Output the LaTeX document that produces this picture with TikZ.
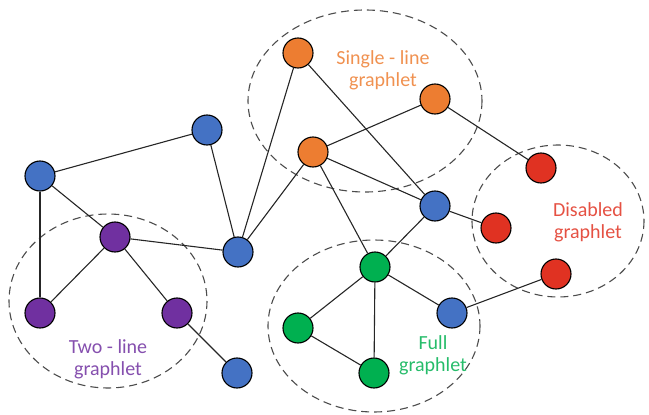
\documentclass[tikz,border=0pt]{standalone}
\usepackage{fontspec}
\setmainfont{Carlito}
\begin{document}
\begin{tikzpicture}[x=1pt,y=-1pt,
  vtx/.style={circle,draw=black,line width=1.1pt,minimum size=30pt,inner sep=0pt},
  bluev/.style={vtx,fill=nodeblue},
  orangev/.style={vtx,fill=nodeorange},
  greenv/.style={vtx,fill=nodegreen},
  redv/.style={vtx,fill=nodered},
  purplev/.style={vtx,fill=nodepurple},
  link/.style={draw=black!85,line width=1.1pt},
  group/.style={draw=black!70,line width=1.1pt,dash pattern=on 8pt off 5pt},
  caption/.style={align=center,font=\fontsize{20}{22}\selectfont}]
\definecolor{nodeblue}{HTML}{4472C4}
\definecolor{nodeorange}{HTML}{ED7D31}
\definecolor{nodegreen}{HTML}{00B050}
\definecolor{nodered}{HTML}{E03222}
\definecolor{nodepurple}{HTML}{7030A0}
\useasboundingbox (0,0) rectangle (649,415);

% dashed groups
\draw[group] (365,101) ellipse [x radius=117, y radius=91];
\draw[group] (108,301) ellipse [x radius=99, y radius=87];
\draw[group] (374,326) ellipse [x radius=106, y radius=86];
\draw[group] (558,221) ellipse [x radius=86, y radius=76];

% vertices
\node[bluev] (b1) at (207,130) {};
\node[bluev] (b2) at (40,176) {};
\node[bluev] (b3) at (238,252) {};
\node[bluev] (b4) at (435,206) {};
\node[bluev] (b5) at (452,313) {};
\node[bluev] (b6) at (237,373) {};
\node[purplev] (p1) at (115,237) {};
\node[purplev] (p2) at (40,313) {};
\node[purplev] (p3) at (177,313) {};
\node[orangev] (o1) at (298,53) {};
\node[orangev] (o2) at (435,99) {};
\node[orangev] (o3) at (313,152) {};
\node[redv] (r1) at (541,168) {};
\node[redv] (r2) at (496,228) {};
\node[redv] (r3) at (556,274) {};
\node[greenv] (g1) at (375,267) {};
\node[greenv] (g2) at (298,328) {};
\node[greenv] (g3) at (374,373) {};

% connections
\path[link] (b2) -- (b1);
\path[link] (b1) -- (b3);
\path[link] (b2) -- (p2);
\path[link] (b2) -- (p1);
\path[link] (p1) -- (b3);
\path[link] (p1) -- (p2);
\path[link] (p1) -- (p3);
\path[link] (p3) -- (b6);
\path[link] (b3) -- (o1);
\path[link] (b3) -- (o3);
\path[link] (o1) -- (b4);
\path[link] (o3) -- (o2);
\path[link] (o2) -- (r1);
\path[link] (o3) -- (b4);
\path[link] (o3) -- (g1);
\path[link] (b4) -- (g1);
\path[link] (b4) -- (r2);
\path[link] (g1) -- (g2);
\path[link] (g1) -- (g3);
\path[link] (g1) -- (b5);
\path[link] (g2) -- (g3);
\path[link] (b5) -- (r3);

% group captions
\node[caption,text=nodeorange!85!white] (tsingle) at (383,70) {Single - line\\graphlet};
\node[caption,text=nodepurple!85!white] (ttwo) at (108,359) {Two - line\\graphlet};
\node[caption,text=nodegreen!85!white] (tfull) at (433,355) {Full\\graphlet};
\node[caption,text=nodered!85!white] (tdis) at (588,222) {Disabled\\graphlet};
\end{tikzpicture}
\end{document}
